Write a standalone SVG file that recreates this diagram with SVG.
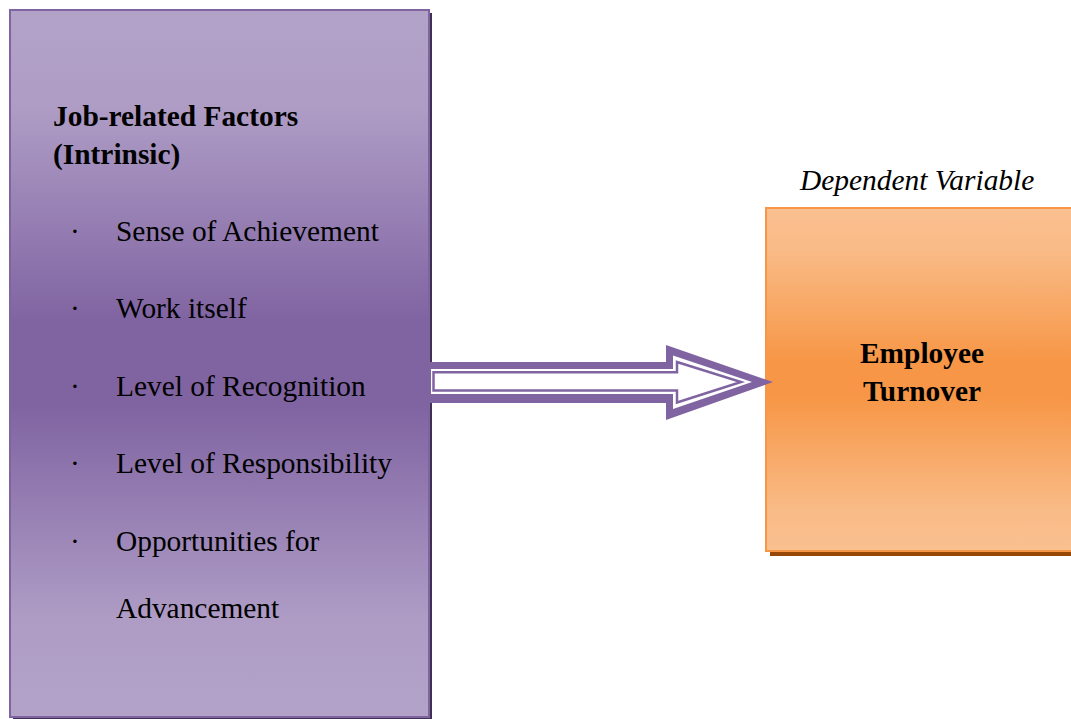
<svg xmlns="http://www.w3.org/2000/svg" width="1071" height="719" viewBox="0 0 1071 719">
  <defs>
    <linearGradient id="purpleFill" x1="0" y1="0" x2="0" y2="1">
      <stop offset="0" stop-color="#b3a2c8"/>
      <stop offset="0.14" stop-color="#ae9cc5"/>
      <stop offset="0.44" stop-color="#8064a2"/>
      <stop offset="0.56" stop-color="#8064a2"/>
      <stop offset="0.86" stop-color="#ae9cc5"/>
      <stop offset="1" stop-color="#b3a2c8"/>
    </linearGradient>
    <linearGradient id="orangeFill" x1="0" y1="0" x2="0" y2="1">
      <stop offset="0" stop-color="#fac090"/>
      <stop offset="0.12" stop-color="#f9bb87"/>
      <stop offset="0.45" stop-color="#f79646"/>
      <stop offset="0.55" stop-color="#f79646"/>
      <stop offset="0.88" stop-color="#f9bb87"/>
      <stop offset="1" stop-color="#fac090"/>
    </linearGradient>
    <style>
      .t { font-family: "Liberation Serif", "Times New Roman", serif; font-size: 29.4px; fill: #000; }
      .b { font-weight: bold; }
      .i { font-style: italic; }
    </style>
  </defs>

  <rect width="1071" height="719" fill="#ffffff"/>

  <!-- independent variable box -->
  <g id="job-factors">
    <rect x="13" y="13" width="419" height="708" fill="#3f3151"/>
    <rect x="10" y="10" width="419" height="707" fill="url(#purpleFill)" stroke="#8064a2" stroke-width="2"/>
    <text class="t b" x="53" y="126">Job-related Factors</text>
    <text class="t b" x="53" y="164">(Intrinsic)</text>
    <g class="t">
      <text class="t" x="70" y="241">·</text>
      <text class="t" x="116" y="241">Sense of Achievement</text>
      <text class="t" x="70" y="318">·</text>
      <text class="t" x="116" y="318">Work itself</text>
      <text class="t" x="70" y="396">·</text>
      <text class="t" x="116" y="396">Level of Recognition</text>
      <text class="t" x="70" y="473">·</text>
      <text class="t" x="116" y="473">Level of Responsibility</text>
      <text class="t" x="70" y="551">·</text>
      <text class="t" x="116" y="551">Opportunities for</text>
      <text class="t" x="116" y="618">Advancement</text>
    </g>
  </g>

  <!-- dependent variable box -->
  <g id="employee-turnover">
    <text class="t i" x="800" y="190">Dependent Variable</text>
    <rect x="770" y="212" width="310" height="344" fill="#984806"/>
    <rect x="766" y="208" width="314" height="343" fill="url(#orangeFill)" stroke="#f79646" stroke-width="2"/>
    <text class="t b" x="922" y="363" text-anchor="middle">Employee</text>
    <text class="t b" x="922" y="401" text-anchor="middle">Turnover</text>
  </g>

  <!-- double-outlined block arrow between the two boxes -->
  <g id="connectors">
    <polygon points="430,362 666,362 666,345 773,382 666,420 666,403 430,403" fill="#8064a2"/>
    <polygon points="431,369 673,369 673,355.5 752,382 673,409 673,394 431,394" fill="#ffffff"/>
    <polygon points="433.5,372.2 677,372.2 677,362 741,382 677,402.5 677,390.6 433.5,390.6" fill="#ffffff" stroke="#8064a2" stroke-width="2.5"/>
  </g>
</svg>
